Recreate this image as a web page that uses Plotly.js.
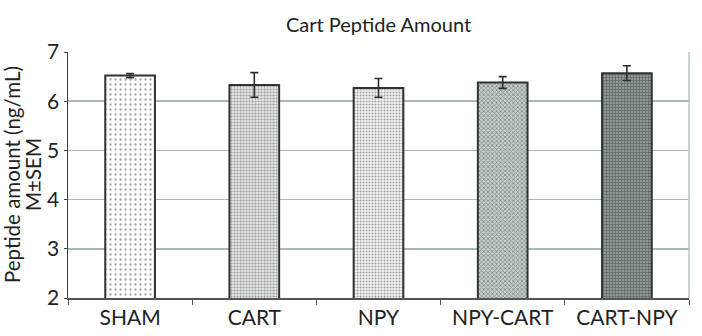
<!DOCTYPE html>
<html><head><meta charset="utf-8">
<script src="https://cdn.plot.ly/plotly-3.0.1.min.js"></script>
<style>html,body{margin:0;padding:0;background:#fff}#c{width:702px;height:336px}</style>
</head><body><div id="c"></div>
<script>
const categories = ["SHAM", "CART", "NPY", "NPY-CART", "CART-NPY"];
const means = [6.52, 6.33, 6.27, 6.38, 6.57];
const sem = [0.04, 0.25, 0.19, 0.12, 0.15];
const yTicks = [2, 3, 4, 5, 6, 7];
const yTitleLines = ["Peptide amount (ng/mL)", "M±SEM"];

const trace = {
  type: "bar",
  x: categories,
  y: means,
  error_y: {type: "data", array: sem, visible: true, color: "#2b2f2f", thickness: 1.6, width: 4},
  marker: {
    color: ["#ffffff", "#dfe4e4", "#f2f4f4", "#c4cccc", "#8e9a9a"],
    line: {color: "#2f3333", width: 2},
    pattern: {
      shape: [".", "+", ".", "x", "+"],
      fgcolor: ["#8fa0a0", "#aab6b6", "#a4b0b0", "#4f5c5c", "#36403f"],
      size: [5, 3, 3, 3, 3],
      solidity: [0.16, 0.3, 0.35, 0.45, 0.5],
      fillmode: "overlay"
    }
  },
  width: 0.4,
  hoverinfo: "none"
};

const layout = {
  width: 702, height: 336,
  margin: {l: 68, r: 13, t: 52, b: 38},
  paper_bgcolor: "#fff", plot_bgcolor: "#fff",
  font: {family: "Lato, 'Open Sans', sans-serif", color: "#222"},
  title: {text: "Cart Peptide Amount", x: 0.5, xanchor: "center", xref: "paper", y: 0.925, yanchor: "middle", font: {size: 20, color: "#222"}},
  showlegend: false,
  xaxis: {
    type: "category",
    tickson: "boundaries", ticks: "outside", ticklen: 5, tickcolor: "#555",
    showline: true, linecolor: "#555", linewidth: 1.5, mirror: false,
    showgrid: false,
    tickfont: {size: 21, color: "#222"}
  },
  yaxis: {
    range: [2, 7], tickvals: yTicks, ticktext: yTicks.map(String),
    ticks: "outside", ticklen: 3, tickcolor: "#445",
    showline: true, linecolor: "#3a4444", linewidth: 1.5,
    showgrid: true, gridcolor: "#a9b7b5", gridwidth: 1.5,
    zeroline: false,
    tickfont: {size: 21, color: "#222"}
  },
  annotations: [
    {text: yTitleLines[0], xref: "paper", yref: "paper", x: 0, y: 0.5, xanchor: "center", yanchor: "middle", xshift: -56, textangle: -90, showarrow: false, font: {size: 20.5, color: "#222"}},
    {text: yTitleLines[1], xref: "paper", yref: "paper", x: 0, y: 0.5, xanchor: "center", yanchor: "middle", xshift: -35, textangle: -90, showarrow: false, font: {size: 20.5, color: "#222"}}
  ],
  shapes: [
    {type: "line", xref: "paper", yref: "paper", x0: 1, x1: 1, y0: 0, y1: 1, line: {color: "#b8c2c2", width: 1.5}}
  ]
};

Plotly.newPlot("c", [trace], layout, {staticPlot: true});
</script></body></html>
